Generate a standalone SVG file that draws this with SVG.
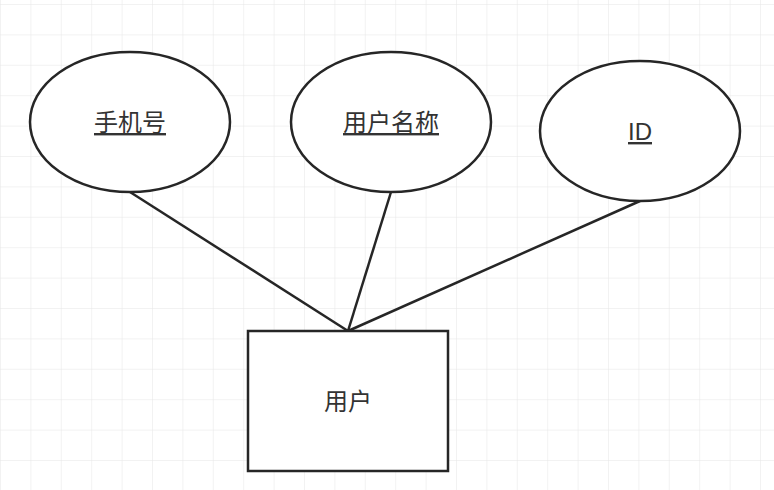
<svg xmlns="http://www.w3.org/2000/svg" width="774" height="490" viewBox="0 0 774 490">
<defs>
<pattern id="g" width="30.4" height="30.4" patternUnits="userSpaceOnUse" x="0" y="4">
<path d="M0 0H30.4M0 0V30.4" stroke="#e6e6e6" stroke-width="1" fill="none"/>
</pattern>
<style>
.s{fill:#fff;stroke:#262626;stroke-width:2.5}
.t{font-family:"Liberation Sans","Noto Sans CJK SC",sans-serif;font-size:24px;fill:#333;text-anchor:middle}
.u{text-decoration:underline}
</style>
</defs>
<rect width="774" height="490" fill="#fff"/>
<rect width="774" height="490" fill="url(#g)"/>
<g id="connectors" stroke="#262626" stroke-width="2.5">
<line x1="130" y1="192" x2="348" y2="331"/>
<line x1="391" y1="192" x2="348" y2="331"/>
<line x1="640" y1="201" x2="348" y2="331"/>
</g>
<g id="phone"><ellipse class="s" cx="130" cy="122" rx="100" ry="70"/><text class="t u" x="130" y="131">手机号</text></g>
<g id="username"><ellipse class="s" cx="391" cy="122" rx="100" ry="70"/><text class="t u" x="391" y="131">用户名称</text></g>
<g id="id"><ellipse class="s" cx="640" cy="131" rx="100" ry="70"/><text class="t u" x="640" y="140">ID</text></g>
<g id="user"><rect class="s" x="248" y="331" width="200" height="140"/><text class="t" x="348" y="410">用户</text></g>
</svg>
